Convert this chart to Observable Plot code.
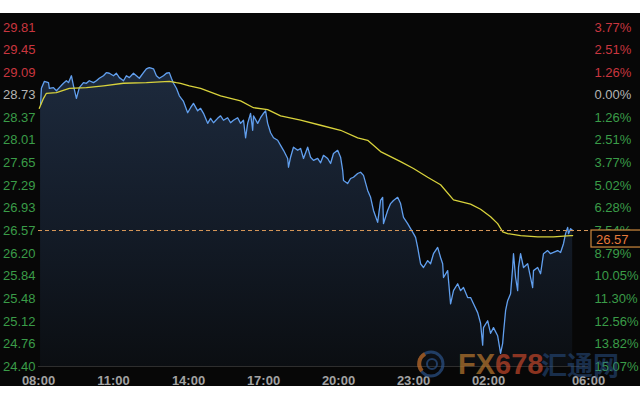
<!DOCTYPE html>
<html><head><meta charset="utf-8">
<script src="https://cdn.jsdelivr.net/npm/d3@7"></script>
<script src="https://cdn.jsdelivr.net/npm/@observablehq/plot@0.6"></script>
<style>
html,body{margin:0;padding:0;background:#fff;}
#wrap{position:relative;width:640px;height:400px;overflow:hidden;}
#bg{position:absolute;left:0;top:13px;width:640px;height:373px;background:#070707;}
#chart{position:absolute;left:0;top:13px;}
#chart svg{display:block;}
.wm{position:absolute;font-family:"Liberation Sans",Arial,sans-serif;font-weight:bold;line-height:1;}
</style></head><body>
<div id="wrap">
<div id="bg"></div>
<div id="chart"></div>
<svg class="wm" style="left:416px;top:349px;opacity:0.7" width="30" height="30" viewBox="0 0 30 30">
  <circle cx="15" cy="15" r="12" fill="none" stroke="#2b5288" stroke-width="3"/>
  <path d="M6 22 A11 11 0 0 1 9 5" fill="none" stroke="#c8702a" stroke-width="4"/>
  <circle cx="16" cy="15" r="5" fill="none" stroke="#2b5288" stroke-width="2"/>
</svg>
<div class="wm" style="left:458px;top:350px;font-size:29px;opacity:0.7"><span style="color:#b9782f">FX</span><span style="color:#c2462a">678</span></div>
<div class="wm" style="left:541px;top:351px;font-size:26px;color:#2f5e9e;opacity:0.45;font-family:'Noto Sans CJK SC',sans-serif">汇通网</div>
</div>
<script>
const times = ["08:05","08:07","08:14","08:24","08:26","08:36","08:43","08:50","09:00","09:07","09:12","09:19","09:24","09:31","09:38","09:48","09:55","10:02","10:12","10:19","10:26","10:36","10:43","10:50","11:00","11:07","11:14","11:24","11:31","11:38","11:48","11:55","12:02","12:12","12:19","12:26","12:36","12:43","12:50","13:00","13:07","13:14","13:19","13:24","13:31","13:38","13:48","13:58","14:05","14:12","14:22","14:29","14:36","14:46","14:53","15:00","15:10","15:17","15:24","15:34","15:41","15:48","15:58","16:05","16:12","16:17","16:22","16:29","16:34","16:36","16:46","16:53","17:00","17:05","17:10","17:17","17:24","17:34","17:41","17:48","17:58","18:00","18:05","18:12","18:22","18:29","18:36","18:46","18:53","19:00","19:10","19:17","19:24","19:34","19:41","19:48","19:58","20:05","20:10","20:12","20:22","20:29","20:36","20:46","20:53","21:00","21:10","21:17","21:24","21:34","21:41","21:46","21:48","21:58","22:05","22:12","22:22","22:29","22:34","22:36","22:46","22:53","23:00","23:05","23:10","23:17","23:24","23:34","23:41","23:48","23:58","00:05","00:10","00:12","00:22","00:29","00:36","00:46","00:53","01:00","01:10","01:17","01:24","01:34","01:41","01:46","01:48","01:58","02:05","02:12","02:22","02:29","02:34","02:36","02:41","02:46","02:53","02:58","03:00","03:05","03:10","03:12","03:17","03:24","03:34","03:41","03:46","03:48","03:58","04:05","04:12","04:22","04:29","04:36","04:46","04:53","05:00","05:05","05:10","05:12","05:17","05:22"];
const prices = [28.58,28.84,28.95,28.93,28.84,28.85,28.80,28.85,28.92,28.96,28.93,29.04,28.88,28.68,28.85,28.93,28.92,28.96,28.93,28.96,29.00,29.04,29.09,29.08,29.04,29.08,29.01,28.96,29.04,29.01,29.08,29.04,29.00,29.09,29.15,29.17,29.15,29.04,29.00,29.04,29.08,29.09,29.00,28.92,28.84,28.72,28.63,28.45,28.53,28.60,28.48,28.52,28.44,28.28,28.36,28.29,28.36,28.40,28.33,28.37,28.29,28.33,28.37,28.28,28.33,28.05,28.28,28.44,28.17,28.40,28.28,28.37,28.44,28.48,28.28,28.13,28.05,28.01,27.93,27.85,27.72,27.58,27.74,27.90,27.85,27.88,27.72,27.90,27.74,27.69,27.72,27.65,27.77,27.72,27.64,27.80,27.85,27.74,27.53,27.37,27.32,27.40,27.42,27.48,27.50,27.45,27.21,27.10,26.89,26.70,27.05,27.10,26.68,26.89,27.00,27.05,27.10,27.00,26.84,26.78,26.68,26.60,26.52,26.46,26.30,26.04,25.98,26.09,26.04,26.20,26.30,26.14,26.04,25.82,25.93,25.40,25.61,25.72,25.61,25.66,25.50,25.50,25.40,25.26,25.09,24.74,25.02,25.13,24.93,25.02,24.89,24.61,24.77,24.93,25.29,25.45,25.56,25.98,26.20,25.82,25.61,25.98,26.20,25.98,26.04,25.82,25.66,25.93,25.98,25.88,26.20,26.25,26.20,26.22,26.25,26.22,26.36,26.52,26.62,26.52,26.60,26.57];
const maTimes = ["08:02","08:12","08:19","08:43","09:14","09:55","10:36","11:24","12:19","13:14","13:31","13:41","14:02","14:29","15:17","16:05","16:36","17:10","17:41","18:29","19:17","20:05","20:46","21:10","21:41","22:29","23:00","23:34","00:05","00:36","01:17","01:41","02:05","02:22","02:34","02:46","03:17","03:58","04:36","05:17","05:22"];
const maValues = [28.52,28.68,28.76,28.77,28.84,28.85,28.88,28.92,28.93,28.95,28.93,28.92,28.88,28.84,28.72,28.64,28.53,28.50,28.40,28.33,28.25,28.17,28.05,28.01,27.83,27.67,27.56,27.42,27.30,27.06,26.99,26.91,26.79,26.68,26.55,26.52,26.49,26.47,26.47,26.49,26.49];
const yTicks = [29.81,29.45,29.09,28.73,28.37,28.01,27.65,27.29,26.93,26.57,26.20,25.84,25.48,25.12,24.76,24.40];
const pctLabels = ["3.77%","2.51%","1.26%","0.00%","1.26%","2.51%","3.77%","5.02%","6.28%","7.54%","8.79%","10.05%","11.30%","12.56%","13.82%","15.07%"];
const xTickLabels = ["08:00","11:00","14:00","17:00","20:00","23:00","02:00","06:00"];
const basePrice = 28.73;
const lastPrice = 26.57;

function parseT(s){
  const [h,m] = s.split(":").map(Number);
  return new Date(Date.UTC(2020,0,h < 8 ? 2 : 1,h,m));
}
const series = times.map((t,i)=>({t:parseT(t), p:prices[i]}));
const ma = maTimes.map((t,i)=>({t:parseT(t), p:maValues[i]}));
const xTicks = xTickLabels.map(parseT);
const yMin = yTicks[yTicks.length-1], yMax = yTicks[0];
const redTicks = yTicks.filter(v=>v>basePrice);
const greyTicks = yTicks.filter(v=>v===basePrice);
const greenTicks = yTicks.filter(v=>v<basePrice);
const pct = d => pctLabels[yTicks.indexOf(d)];
const RED="#c9363f", GREY="#b4b4b4", GREEN="#3a9c48";
const axisCommon = {tickSize:0, label:null, fontSize:13};

const chart = Plot.plot({
  width:640, height:385,
  marginTop:14, marginBottom:32, marginLeft:38, marginRight:52,
  style:{background:"transparent", fontFamily:"'Liberation Sans', Arial, sans-serif", fontSize:"13px"},
  x:{type:"utc", domain:[xTicks[0], xTicks[xTicks.length-1]]},
  y:{domain:[yMin,yMax]},
  marks:[
    Plot.areaY(series,{x:"t", y1:yMin, y2:"p", fill:"url(#areaGrad)"}),
    Plot.ruleY([yMin],{stroke:"#2e2e2e"}),
    Plot.line(series,{x:"t", y:"p", stroke:"#619fee", strokeWidth:1.3}),
    Plot.line(ma,{x:"t", y:"p", stroke:"#d8d23c", strokeWidth:1.3}),
    Plot.ruleY([lastPrice],{stroke:"#d9995a", strokeDasharray:"4,3", strokeWidth:1}),
    Plot.axisY({...axisCommon, ticks:redTicks, anchor:"left", tickPadding:3, fill:RED, tickFormat:d=>d.toFixed(2)}),
    Plot.axisY({...axisCommon, ticks:greyTicks, anchor:"left", tickPadding:3, fill:GREY, tickFormat:d=>d.toFixed(2)}),
    Plot.axisY({...axisCommon, ticks:greenTicks, anchor:"left", tickPadding:3, fill:GREEN, tickFormat:d=>d.toFixed(2)}),
    Plot.axisY({...axisCommon, ticks:redTicks, anchor:"right", tickPadding:6, fill:RED, tickFormat:pct}),
    Plot.axisY({...axisCommon, ticks:greyTicks, anchor:"right", tickPadding:6, fill:GREY, tickFormat:pct}),
    Plot.axisY({...axisCommon, ticks:greenTicks, anchor:"right", tickPadding:6, fill:GREEN, tickFormat:pct}),
    Plot.axisX({...axisCommon, ticks:xTicks, tickFormat:d3.utcFormat("%H:%M"), tickPadding:9, fill:"#a2a2a2", fontWeight:"bold"})
  ]
});
document.getElementById("chart").appendChild(chart);

const svg = d3.select(chart);
const grad = svg.insert("defs",":first-child").append("linearGradient")
  .attr("id","areaGrad").attr("x1",0).attr("y1",0).attr("x2",0).attr("y2",1);
grad.append("stop").attr("offset","0%").attr("stop-color","#1d2a3d");
grad.append("stop").attr("offset","55%").attr("stop-color","#131b27");
grad.append("stop").attr("offset","100%").attr("stop-color","#0b0e12");

const yy = chart.scale("y").apply(lastPrice);
const xr = chart.scale("x").range[1];
const g = svg.append("g");
g.append("rect").attr("x",xr+3).attr("y",yy).attr("width",60).attr("height",17)
  .attr("fill","#070707").attr("stroke","#cf8a3e").attr("stroke-width",1.2);
g.append("text").attr("x",xr+8).attr("y",yy+13.5).attr("fill","#e5793a")
  .attr("text-anchor","start").attr("font-size",13).text(lastPrice.toFixed(2));
</script>
</body></html>
